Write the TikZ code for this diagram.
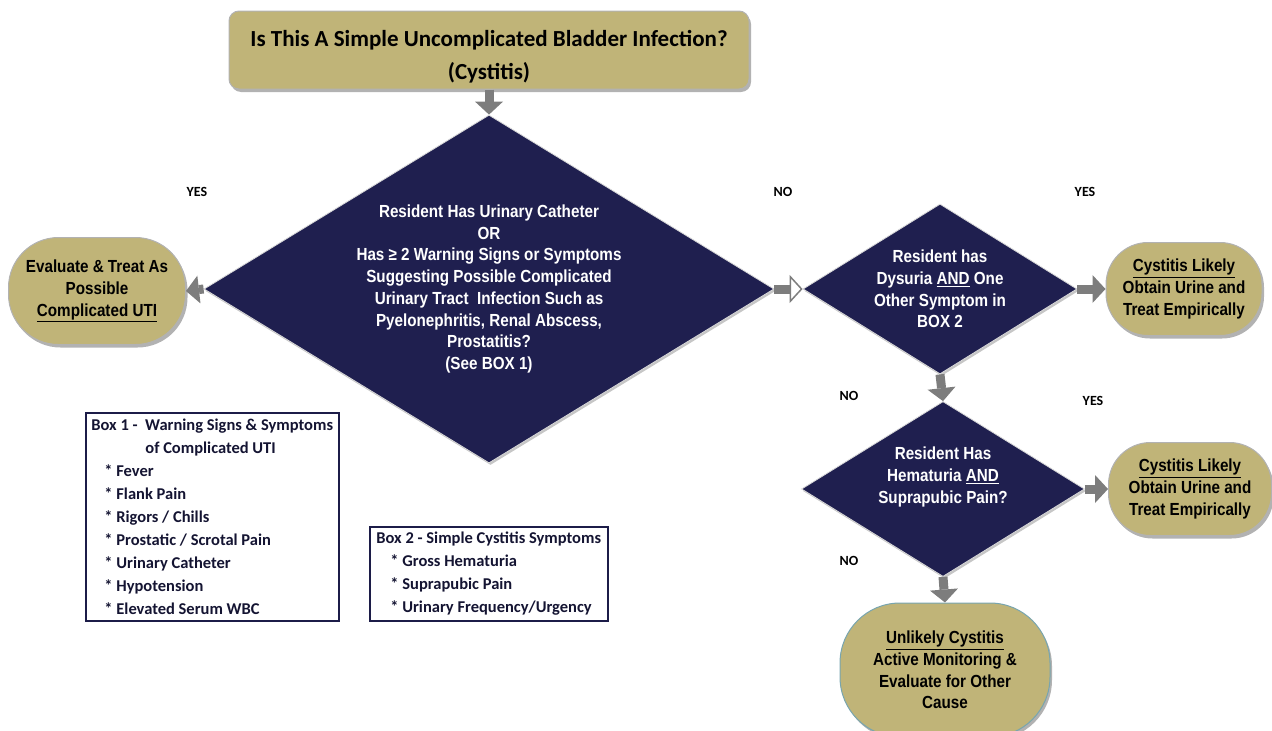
\documentclass[tikz,border=0pt]{standalone}
\usepackage{fontspec}
\setmainfont{Liberation Sans}[FakeStretch=0.87]
\newfontfamily\calibri{Carlito}
\usetikzlibrary{shapes,shadows,arrows.meta}

\definecolor{khaki}{RGB}{192,180,120}
\definecolor{navy}{RGB}{31,31,79}
\definecolor{boxnavy}{RGB}{28,28,72}
\definecolor{arrowgray}{RGB}{125,125,125}
\definecolor{tealedge}{RGB}{120,165,175}

\tikzset{
  decision/.style={diamond, fill=navy, draw=gray!30, line width=0.8pt, inner sep=0pt,
    text=white, align=center, font=\bfseries\fontsize{17.5}{21.7}\selectfont,
    drop shadow={shadow xshift=1.5pt, shadow yshift=-2pt, fill=gray!45, opacity=1}},
  outcome/.style={rectangle, rounded corners=42pt, fill=khaki, draw=gray!60, line width=1pt,
    align=center, inner sep=2pt, font=\bfseries\fontsize{17.5}{21.7}\selectfont,
    drop shadow={shadow xshift=2pt, shadow yshift=-3pt, fill=gray!60, opacity=1}},
  infobox/.style={draw=boxnavy, line width=1.5pt, anchor=north west, align=left,
    inner sep=4pt, text=boxnavy!70!black, font=\calibri\bfseries\fontsize{16.5}{23}\selectfont},
  yesno/.style={font=\calibri\bfseries\fontsize{14}{16}\selectfont},
  flow/.style={draw=arrowgray, line width=9pt, -{Triangle[length=13pt,width=28pt,line width=0pt]}},
  hollowflow/.style={draw=arrowgray, line width=9pt, -{Triangle[length=13pt,width=28pt,fill=white,line width=1.5pt]}}
}

\begin{document}
\begin{tikzpicture}[x=1pt,y=-1pt]
\useasboundingbox (0,0) rectangle (1272,731);

% question at the top
\node[outcome, rounded corners=10pt, minimum width=520pt, minimum height=78pt,
  font=\calibri\bfseries\fontsize{23}{33}\selectfont] (question) at (489,50)
  {\rule{0pt}{30pt}Is This A Simple Uncomplicated Bladder Infection?\\(Cystitis)};

% decisions
\node[decision, aspect=1.64, minimum width=570pt, minimum height=348pt] (catheter) at (489,289)
  {Resident Has Urinary Catheter\\OR\\Has ≥ 2 Warning Signs or Symptoms\\Suggesting Possible Complicated\\Urinary Tract\ \ Infection Such as\\Pyelonephritis, Renal Abscess,\\Prostatitis?\\(See BOX 1)};
\node[decision, aspect=1.61, minimum width=274pt, minimum height=170pt] (dysuria) at (940,289)
  {Resident has\\Dysuria \underline{AND} One\\Other Symptom in\\BOX 2};
\node[decision, aspect=1.62, minimum width=283pt, minimum height=175pt] (hematuria) at (943,489) {};
\node[text=white, align=center, font=\bfseries\fontsize{17.5}{21.7}\selectfont] (hematuriatext) at (943,477)
  {Resident Has\\Hematuria \underline{AND}\\Suprapubic Pain?};

% outcomes
\node[outcome, rounded corners=50pt, minimum width=177pt, minimum height=107pt] (complicated) at (97,291)
  {Evaluate \& Treat As\\Possible\\\underline{Complicated UTI}};
\node[outcome, minimum width=156pt, minimum height=93pt] (likelyA) at (1184,289)
  {\underline{Cystitis Likely}\\Obtain Urine and\\Treat Empirically};
\node[outcome, minimum width=163pt, minimum height=93pt] (likelyB) at (1190,489)
  {\underline{Cystitis Likely}\\Obtain Urine and\\Treat Empirically};
\node[outcome, draw=tealedge, rounded corners=60pt, minimum width=210pt, minimum height=134pt] (unlikely) at (945,670)
  {\underline{Unlikely Cystitis}\\Active Monitoring \&\\Evaluate for Other\\Cause};

% yes / no labels
\node[yesno] (yesA) at (197,192) {YES};
\node[yesno] (noA) at (783,192) {NO};
\node[yesno] (yesB) at (1085,192) {YES};
\node[yesno] (noB) at (849,396) {NO};
\node[yesno] (yesC) at (1093,401) {YES};
\node[yesno] (noC) at (849,561) {NO};

% boxes
\node[infobox, minimum width=253pt, minimum height=208pt] (box1) at (85,412)
  {Box 1 -\ \ Warning Signs \& Symptoms\\
   \hspace*{54pt}of Complicated UTI\\
   \hspace*{13pt}* Fever\\
   \hspace*{13pt}* Flank Pain\\
   \hspace*{13pt}* Rigors / Chills\\
   \hspace*{13pt}* Prostatic / Scrotal Pain\\
   \hspace*{13pt}* Urinary Catheter\\
   \hspace*{13pt}* Hypotension\\
   \hspace*{13pt}* Elevated Serum WBC};
\node[infobox, minimum width=238pt, minimum height=94pt] (box2) at (369,526)
  {Box 2 - Simple Cystitis Symptoms\\
   \hspace*{14pt}* Gross Hematuria\\
   \hspace*{14pt}* Suprapubic Pain\\
   \hspace*{14pt}* Urinary Frequency/Urgency};

% arrows
\draw[flow] (question.south) -- (catheter.north);
\draw[flow] (catheter.west) -- (complicated.east);
\draw[hollowflow] (catheter.east) -- (dysuria.west);
\draw[flow] (dysuria.east) -- (likelyA.west);
\draw[flow] (dysuria.south) -- (hematuria.north);
\draw[flow] (hematuria.east) -- (likelyB.west);
\draw[flow] (hematuria.south) -- (unlikely.north);
\end{tikzpicture}
\end{document}
